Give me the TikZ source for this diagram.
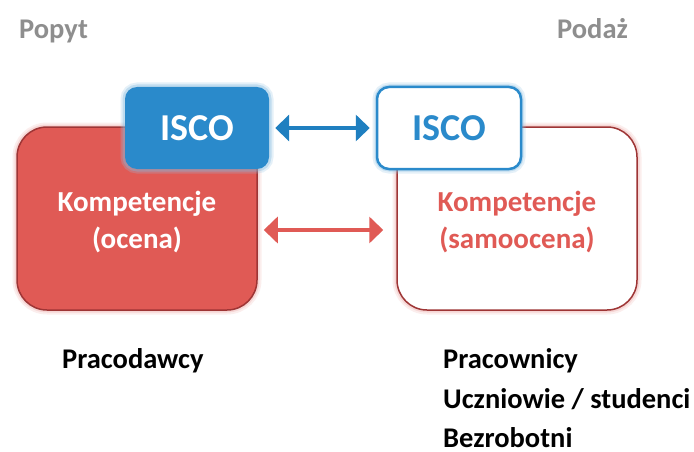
\documentclass[tikz,border=0pt]{standalone}
\usepackage{fontspec}
\setmainfont{Carlito}
\usetikzlibrary{arrows.meta}
\definecolor{cred}{HTML}{E05A55}
\definecolor{cdred}{HTML}{9E3535}
\definecolor{cblue}{HTML}{2A8ACB}
\definecolor{cablue}{HTML}{1F7FC0}
\definecolor{cgray}{HTML}{8E8E8E}
\tikzset{
  redglow/.style={preaction={draw=cred!40,line width=9pt,opacity=0.25},
                  preaction={draw=cred!50,line width=5pt,opacity=0.35}},
  blueglow/.style={preaction={draw=cblue!50,line width=9pt,opacity=0.25},
                   preaction={draw=cblue!60,line width=5pt,opacity=0.35}},
  bigbox/.style={rectangle,rounded corners=30pt,minimum width=240pt,minimum height=183pt,line width=1.5pt,draw=cdred,redglow},
  iscobox/.style={rectangle,rounded corners=12pt,minimum width=144pt,minimum height=82pt,blueglow,font=\bfseries\fontsize{38}{40}\selectfont},
  lbl/.style={font=\bfseries\fontsize{29}{37}\selectfont,align=center},
  side/.style={font=\bfseries\fontsize{28.5}{30}\selectfont,text=cgray,anchor=west,inner sep=0pt},
  bottom/.style={font=\bfseries\fontsize{28.5}{30}\selectfont,anchor=base west,inner sep=0pt},
  dbl/.style={line width=4pt,{Triangle[length=14pt,width=26pt]}-{Triangle[length=14pt,width=26pt]}}
}
\begin{document}
\begin{tikzpicture}[x=1pt,y=-1pt]
\useasboundingbox[fill=white] (0,0) rectangle (694,452);
\node[side] (popyt) at (19,32) {Popyt};
\node[side] (podaz) at (557,29) {Podaż};
\node[bigbox,fill=cred] (lbox) at (137,218.5) {};
\node[bigbox,fill=white] (rbox) at (517,218.5) {};
\node[iscobox,fill=cblue,text=white] (liso) at (197,128) {ISCO};
\node[iscobox,fill=white,draw=cblue,line width=2.5pt,text=cblue] (riso) at (449,128) {ISCO};
\node[lbl,text=white] (lt) at (137,222) {Kompetencje\\(ocena)};
\node[lbl,text=cred] (rt) at (517,222) {Kompetencje\\(samoocena)};
\draw[dbl,draw=cablue,shorten <=6pt,shorten >=6pt] (liso.east) -- (riso.west);
\draw[dbl,draw=cred,shorten <=6pt,shorten >=13pt] (lbox.east |- 0,230) coordinate (ra) -- (rbox.west |- 0,230) coordinate (rb);
\node[bottom] (prac) at (62,368) {Pracodawcy};
\node[bottom] (p1) at (443,368) {Pracownicy};
\node[bottom] (p2) at (443,408) {Uczniowie / studenci};
\node[bottom] (p3) at (443,447) {Bezrobotni};
\end{tikzpicture}
\end{document}
